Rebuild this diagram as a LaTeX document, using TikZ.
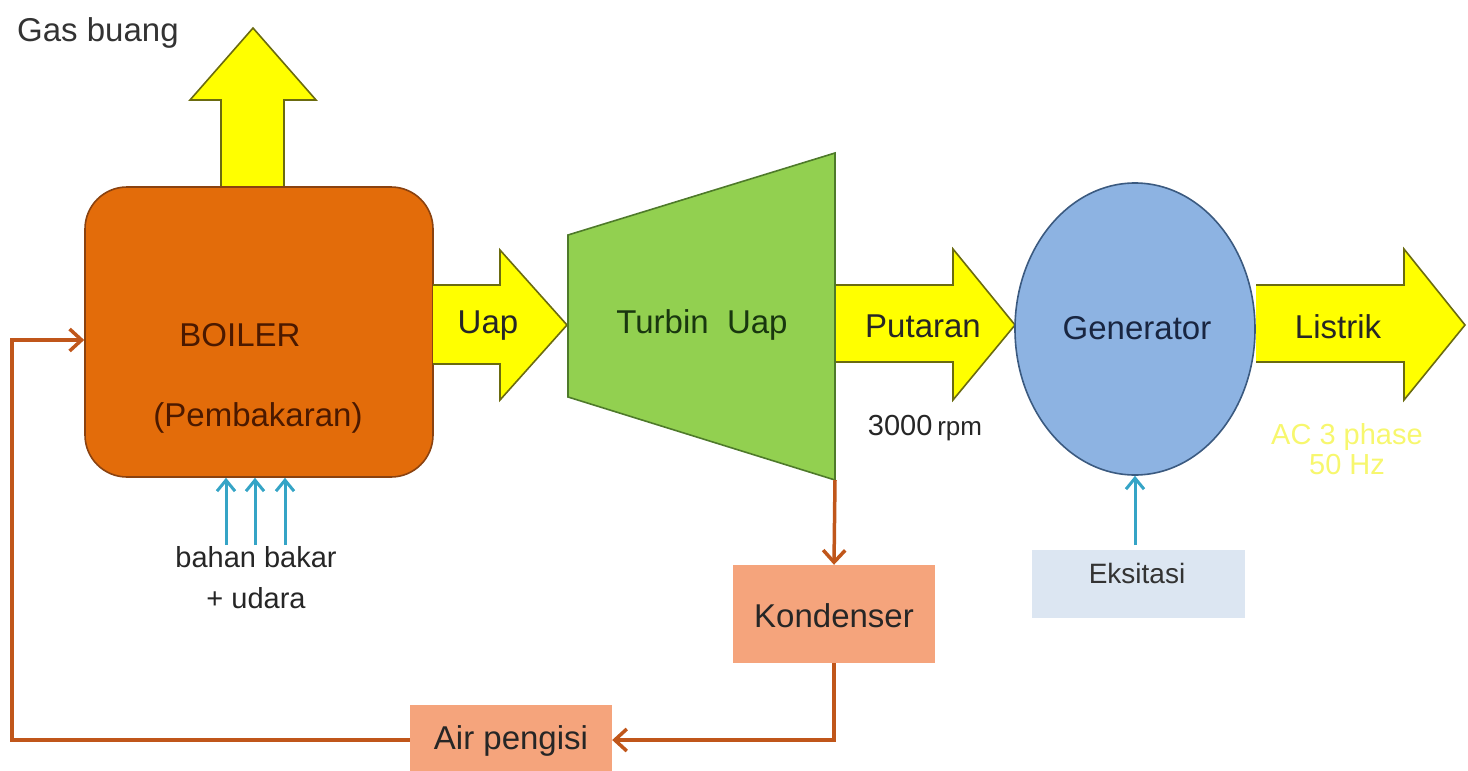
\documentclass[tikz,border=0pt]{standalone}
\usepackage{fontspec}
\setmainfont{Liberation Sans}
\usetikzlibrary{shapes.geometric,arrows.meta}
\definecolor{yfill}{HTML}{FFFF00}
\definecolor{yline}{HTML}{6B6B10}
\definecolor{bfill}{HTML}{E36C0A}
\definecolor{bline}{HTML}{8A4210}
\definecolor{tfill}{HTML}{92D050}
\definecolor{tline}{HTML}{4E7A2A}
\definecolor{gfill}{HTML}{8DB3E2}
\definecolor{gline}{HTML}{3B5A80}
\definecolor{kfill}{HTML}{F5A47C}
\definecolor{pipe}{HTML}{C0561A}
\definecolor{feed}{HTML}{35A4C6}
\definecolor{efill}{HTML}{DCE6F2}
\definecolor{actext}{HTML}{F7F76E}
\tikzset{
  fat/.style={fill=yfill,draw=yline,line width=1.6pt,line join=miter},
  lbl/.style={font=\fontsize{33}{37}\selectfont,inner sep=0pt},
  smalllbl/.style={font=\fontsize{29}{33}\selectfont,inner sep=0pt},
  pipeline/.style={draw=pipe,line width=3.5pt},
  pipetip/.style={-{Straight Barb[length=12pt,width=22pt,line width=3.5pt]}},
  feedarrow/.style={draw=feed,line width=3pt,-{Straight Barb[length=11pt,width=18pt,line width=3pt]}},
  kbox/.style={fill=kfill,draw=none,minimum width=202pt,inner sep=0pt},
}
\begin{document}
\begin{tikzpicture}[x=1pt,y=-1pt]
\useasboundingbox (0,0) rectangle (1468,771);

% Gas buang arrow
\draw[fat] (221,187) -- (221,100) -- (190,100) -- (253,28) -- (316,100) -- (284,100) -- (284,187);
\node[lbl,text=black!80,anchor=base west] (gas) at (17,41) {Gas buang};

% Boiler
\node[fill=bfill,draw=bline,line width=1.6pt,rounded corners=42pt,minimum width=348pt,minimum height=290pt,inner sep=0pt] (boiler) at (259,332) {};
\node[lbl,text={rgb,255:red,75;green,25;blue,0}] (boilert) at (240,335) {BOILER};
\node[lbl,text={rgb,255:red,75;green,25;blue,0}] (pemb) at (258,418) {(Pembakaran)};

% Uap arrow
\draw[fat] (433,285) -- (500,285) -- (500,250) -- (567,325) -- (500,400) -- (500,364) -- (433,364);
\node[lbl,text=black!85] (uap) at (488,326) {Uap};

% Turbine
\draw[fill=tfill,draw=tline,line width=1.6pt] (568,235) -- (835,153) -- (835,480) -- (568,397) -- cycle;
\coordinate (turbot) at (835,480);
\node[lbl,text={rgb,255:red,25;green,55;blue,15}] (turbin) at (702,325) {Turbin\ \ Uap};

% Putaran arrow
\draw[fat] (836,285) -- (953,285) -- (953,249) -- (1015,325) -- (953,400) -- (953,362) -- (836,362);
\node[lbl,text=black!85] (putaran) at (923,326) {Putaran};
\node[inner sep=0pt,text=black!85] (rpm) at (925,428) {\fontsize{29}{33}\selectfont 3000\,{\fontsize{26}{30}\selectfont rpm}};

% Generator
\node[ellipse,fill=gfill,draw=gline,line width=1.6pt,minimum width=240pt,minimum height=292pt,inner sep=0pt] (gen) at (1135,329) {};
\node[lbl,text={rgb,255:red,25;green,38;blue,65}] (gent) at (1137,328) {Generator};

% Listrik arrow
\draw[fat] (1256,285) -- (1404,285) -- (1404,249) -- (1465,325) -- (1404,400) -- (1404,362) -- (1256,362);
\node[lbl,text=black!85] (listrik) at (1338,327) {Listrik};
\node[smalllbl,text=actext,align=center] (ac) at (1347,449) {AC 3 phase\\[-3pt]50 Hz};

% Fuel + air
\node[smalllbl,text=black!85] (bahan) at (256,557) {bahan bakar};
\node[smalllbl,text=black!85] (udara) at (256,598) {+ udara};
\coordinate (f1) at (226,545);
\coordinate (f2) at (255,545);
\coordinate (f3) at (285,545);
\draw[feedarrow] (f1) -- (f1 |- boiler.south);
\draw[feedarrow] (f2) -- (f2 |- boiler.south);
\draw[feedarrow] (f3) -- (f3 |- boiler.south);

% Exciter
\node[fill=efill,minimum width=213pt,minimum height=68pt,inner sep=0pt] (eks) at (1138,584) {};
\node[lbl,text=black!80,font=\fontsize{28}{32}\selectfont] (ekst) at (1137,573) {Eksitasi};
\coordinate (e1) at (1135,545);
\draw[feedarrow] (e1) -- (gen.south);

% Condenser and feed water
\node[kbox,minimum height=98pt] (kond) at (834,614) {};
\node[lbl,text=black!85] (kondt) at (834,616) {Kondenser};
\node[kbox,minimum height=70pt] (air) at (511,740) {};
\node[lbl,text=black!85] (airt) at (511,741) {Air pengisi};
\coordinate (loopc) at (12,740);

\draw[pipeline,pipetip] (turbot) -- (kond.north);
\draw[pipeline,pipetip] (kond.south) |- (air.east);
\draw[pipeline,pipetip] (air.west) -- (loopc) |- (boiler.west |- 0,340);
\end{tikzpicture}
\end{document}
